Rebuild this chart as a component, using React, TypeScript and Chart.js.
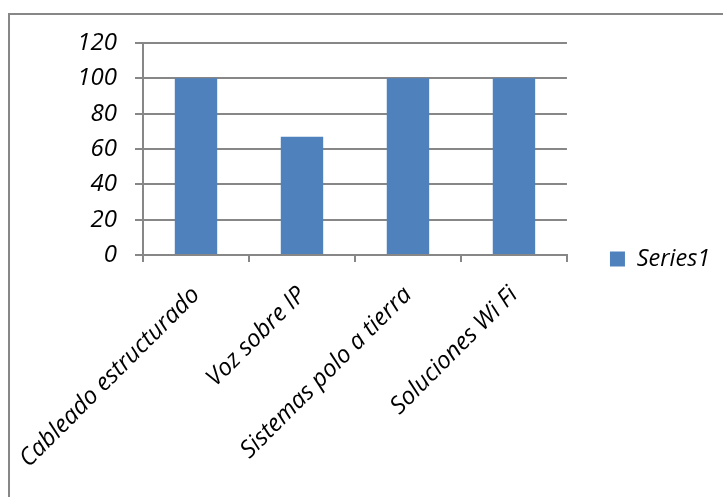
import React, { useEffect, useRef } from "react";
import { Chart, registerables } from "chart.js";

Chart.register(...registerables);

const categories = [
  "Cableado estructurado",
  "Voz sobre IP",
  "Sistemas polo a tierra",
  "Soluciones Wi Fi",
];
const series1 = [100, 67, 100, 100];
const seriesName = "Series1";
const yMin = 0;
const yMax = 120;
const yStep = 20;

const FONT = "'Open Sans', 'DejaVu Sans', sans-serif";
const BAR = "#4F81BD";
const GRID = "#878787";

export default function App() {
  const ref = useRef<HTMLCanvasElement | null>(null);

  useEffect(() => {
    if (!ref.current) return;
    const chart = new Chart(ref.current, {
      type: "bar",
      data: {
        labels: categories,
        datasets: [
          {
            label: seriesName,
            data: series1,
            backgroundColor: BAR,
            borderWidth: 0,
            categoryPercentage: 1,
            barPercentage: 0.4,
          },
        ],
      },
      options: {
        responsive: false,
        animation: false,
        layout: { padding: { left: 0, right: 2.75, top: 28, bottom: 22 } },
        plugins: {
          tooltip: { enabled: false },
          legend: {
            position: "right",
            labels: {
              boxWidth: 15,
              boxHeight: 15,
              padding: 43,
              color: "#000",
              font: { family: FONT, size: 23.5, style: "italic" },
            },
          },
        },
        scales: {
          x: {
            afterFit: (s: any) => {
              s.height = 220;
              s.paddingLeft = 0;
              s.paddingRight = 0;
            },
            grid: {
              drawOnChartArea: false,
              drawTicks: true,
              tickLength: 7,
              color: GRID,
              lineWidth: 2,
              offset: true,
            },
            border: { display: true, color: GRID, width: 2 },
            ticks: {
              minRotation: 45,
              maxRotation: 45,
              autoSkip: false,
              padding: 19,
              color: "#000",
              font: { family: FONT, size: 24, style: "italic" },
            },
          },
          y: {
            min: yMin,
            max: yMax,
            afterFit: (s: any) => {
              s.width = 133;
              s.paddingTop = 0;
              s.paddingBottom = 0;
            },
            grid: {
              color: GRID,
              lineWidth: 2,
              tickLength: 8,
            },
            border: { display: true, color: GRID, width: 2 },
            ticks: {
              stepSize: yStep,
              padding: 18,
              color: "#000",
              font: { family: FONT, size: 24, style: "italic" },
            },
          },
        },
      },
    });
    return () => chart.destroy();
  }, []);

  return (
    <div
      style={{
        position: "absolute",
        left: 8,
        top: 13,
        width: 713,
        height: 482,
        borderTop: `2px solid ${GRID}`,
        borderLeft: `2px solid ${GRID}`,
        background: "#fff",
      }}
    >
      <canvas ref={ref} width={713} height={482} style={{ display: "block" }} />
    </div>
  );
}
